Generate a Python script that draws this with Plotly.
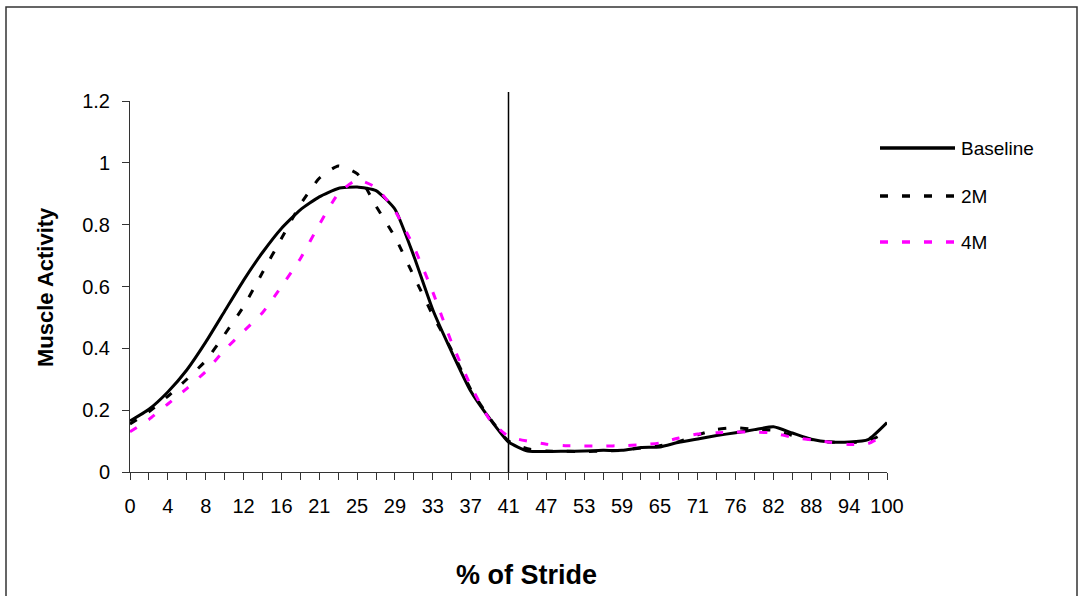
import plotly.graph_objects as go

# Stride percentage labels (one label for every second sample)
stride_labels = ["0", "4", "8", "12", "16", "21", "25", "29", "33", "37", "41",
                 "47", "53", "59", "65", "71", "76", "82", "88", "94", "100"]
samples_per_label = 2
toe_off_label = "41"

# Normalised muscle activity per sample
baseline = [0.165, 0.203, 0.259, 0.330, 0.420, 0.520, 0.620, 0.710, 0.788, 0.848,
            0.890, 0.917, 0.922, 0.910, 0.850, 0.698, 0.525, 0.388, 0.262, 0.173,
            0.097, 0.068, 0.066, 0.067, 0.068, 0.070, 0.070, 0.079, 0.081, 0.096,
            0.107, 0.118, 0.127, 0.137, 0.146, 0.126, 0.106, 0.097, 0.097, 0.105,
            0.160]
m2 = [0.155, 0.195, 0.245, 0.300, 0.360, 0.445, 0.535, 0.645, 0.755, 0.865,
      0.950, 0.990, 0.965, 0.860, 0.760, 0.633, 0.507, 0.394, 0.268, 0.175,
      0.100, 0.075, 0.068, 0.067, 0.066, 0.068, 0.070, 0.078, 0.085, 0.098,
      0.120, 0.138, 0.143, 0.138, 0.135, 0.118, 0.105, 0.097, 0.095, 0.100,
      0.130]
m4 = [0.130, 0.170, 0.220, 0.270, 0.325, 0.395, 0.455, 0.515, 0.600, 0.690,
      0.800, 0.900, 0.945, 0.920, 0.845, 0.728, 0.582, 0.418, 0.280, 0.170,
      0.115, 0.100, 0.090, 0.085, 0.084, 0.084, 0.085, 0.088, 0.094, 0.110,
      0.123, 0.127, 0.129, 0.129, 0.126, 0.112, 0.104, 0.096, 0.089, 0.092,
      0.125]

series = [
    ("Baseline", baseline, "#000000", "solid"),
    ("2M", m2, "#000000", "8px,14px"),
    ("4M", m4, "#FF00FF", "8px,14px"),
]

W, H = 1081, 596
L, R, T, B = 130, 194, 101, 124
PW, PH = W - L - R, H - T - B


def px(x):
    return (x - L) / PW


def py(y):
    return (H - B - y) / PH


n = len(baseline)
idx = list(range(n))
tick_text = [stride_labels[i // samples_per_label] if i % samples_per_label == 0 else ""
             for i in idx]
toe_off_idx = stride_labels.index(toe_off_label) * samples_per_label

FONT = "Liberation Sans, Arial, sans-serif"

fig = go.Figure()
for name, vals, color, dash in series:
    fig.add_trace(go.Scatter(
        x=idx, y=vals, name=name, mode="lines", showlegend=False,
        line=dict(color=color, width=3, dash=dash, shape="spline", smoothing=0.5),
    ))

shapes = []
# toe-off marker
shapes.append(dict(type="line", xref="x", yref="paper",
                   x0=toe_off_idx, x1=toe_off_idx, y0=0, y1=py(92),
                   line=dict(color="#000000", width=1.5)))
# chart frame
shapes.append(dict(type="rect", xref="paper", yref="paper",
                   x0=px(6), x1=px(1077), y0=py(7), y1=py(640),
                   line=dict(color="#333333", width=1.5)))

annotations = []
# legend drawn by hand
leg_rows = [148, 196, 242]
for (name, vals, color, dash), ly in zip(series, leg_rows):
    shapes.append(dict(type="line", xref="paper", yref="paper",
                       x0=px(880), x1=px(955), y0=py(ly), y1=py(ly),
                       line=dict(color=color, width=3.5, dash=dash)))
    annotations.append(dict(xref="paper", yref="paper", x=px(959), y=py(ly),
                            text=name, showarrow=False, xanchor="left", yanchor="middle",
                            font=dict(family=FONT, size=19, color="#000000")))

annotations.append(dict(xref="paper", yref="paper", x=px(526), y=py(575),
                        text="<b>% of Stride</b>", showarrow=False,
                        xanchor="center", yanchor="middle",
                        font=dict(family=FONT, size=27, color="#000000")))
annotations.append(dict(xref="paper", yref="paper", x=px(45), y=py(287),
                        text="<b>Muscle Activity</b>", showarrow=False, textangle=-90,
                        xanchor="center", yanchor="middle",
                        font=dict(family=FONT, size=22, color="#000000")))

fig.update_layout(
    width=W, height=H,
    margin=dict(l=L, r=R, t=T, b=B, pad=0),
    paper_bgcolor="white", plot_bgcolor="white",
    font=dict(family=FONT, size=20, color="#000000"),
    shapes=shapes, annotations=annotations,
    xaxis=dict(range=[0, n - 1], tickvals=idx, ticktext=tick_text,
               showline=True, linecolor="#333333", linewidth=1,
               ticks="outside", ticklen=7, tickcolor="#333333",
               showgrid=False, zeroline=False, ticklabelstandoff=9,
               tickfont=dict(size=20)),
    yaxis=dict(range=[0, 1.2], dtick=0.2, tick0=0,
               showline=True, linecolor="#333333", linewidth=1,
               ticks="outside", ticklen=7, tickcolor="#333333",
               showgrid=False, zeroline=False, ticklabelstandoff=8,
               tickfont=dict(size=20)),
)

fig.write_html("out.html")
